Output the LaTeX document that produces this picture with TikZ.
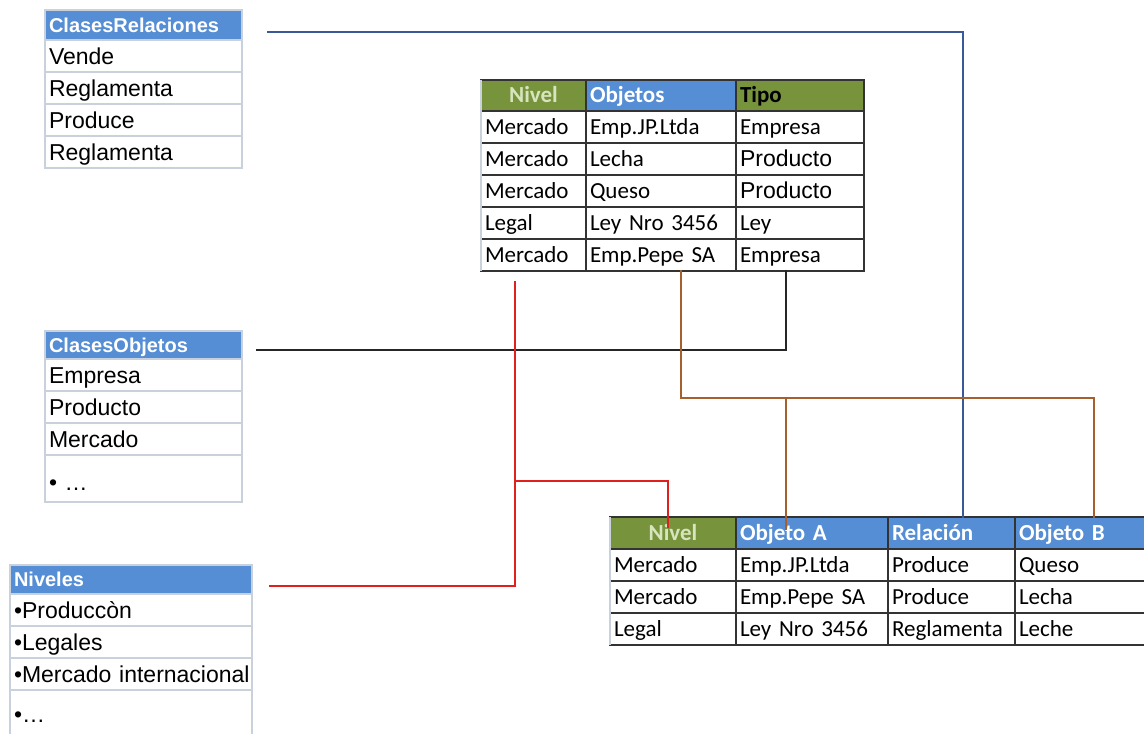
\documentclass[tikz,border=0pt]{standalone}
\usepackage{fontspec}
\setmainfont{Carlito}
\newfontfamily\arialf{Liberation Sans}
\usetikzlibrary{positioning}

\definecolor{hdrgreen}{HTML}{77933C}
\definecolor{hdrblue}{HTML}{558ED5}
\definecolor{greentext}{HTML}{D7E4BD}
\definecolor{lgrid}{HTML}{C9D1DD}
\definecolor{dgrid}{HTML}{333333}
\definecolor{linkblue}{HTML}{3B5998}
\definecolor{linkred}{HTML}{E0201C}
\definecolor{linkbrown}{HTML}{A5602E}

\begin{document}
\begin{tikzpicture}[x=0.5pt, y=-0.5pt,
  every node/.style={inner xsep=2pt, inner ysep=0pt, outer sep=0pt, anchor=north west, align=left},
  lhead/.style={fill=hdrblue, draw=lgrid, line width=0.6pt, text=white,
    font=\arialf\bfseries\fontsize{10}{12}\selectfont, text height=7.2pt, text depth=0pt, text width=#1},
  lcell/.style={fill=white, draw=lgrid, line width=0.6pt, minimum height=16pt,
    font=\arialf\fontsize{11.5}{13}\selectfont, text height=8.2pt, text depth=0pt, text width=#1},
  thead/.style={fill=hdrblue, draw=dgrid, line width=1pt, text=white, minimum height=#1,
    font=\bfseries\fontsize{11.5}{13}\selectfont, text height=7.4pt, text depth=0pt},
  theadg/.style={thead=#1, fill=hdrgreen, text=greentext, align=center},
  tcell/.style={fill=white, draw=dgrid, line width=1pt, minimum height=16pt,
    font=\fontsize{11.5}{13}\selectfont, text height=7.4pt, text depth=0pt},
  link/.style={line width=1pt, line cap=rect}]

\useasboundingbox (0,0) rectangle (1144,733);

% ClasesRelaciones
\node[lhead=94.5pt, minimum height=15pt] (crel0) at (45,10) {ClasesRelaciones};
\foreach \t [count=\i] in {Vende,Reglamenta,Produce,Reglamenta}
  \node[lcell=94.5pt] (crel\i) at (45,{40+32*(\i-1)}) {\t};

% ClasesObjetos
\node[lhead=94.5pt, minimum height=14pt] (cobj0) at (45,331) {ClasesObjetos};
\foreach \t [count=\i] in {Empresa,Producto,Mercado}
  \node[lcell=94.5pt] (cobj\i) at (45,{359+32*(\i-1)}) {\t};
\node[lcell=94.5pt, text height=17.5pt, text depth=6pt] (cobj4) at (45,455) {• …};

% Niveles
\node[lhead=117pt, minimum height=14.5pt] (niv0) at (10,565) {Niveles};
\foreach \t [count=\i] in {•Produccòn,•Legales,\mbox{•Mercado internacional}}
  \node[lcell=117pt] (niv\i) at (10,{594+32*(\i-1)}) {\t};
\node[lcell=117pt, text height=16pt, text depth=9pt] (niv4) at (10,690) {•…};

% tabla de objetos
\node[theadg=15.5pt, text width=48.5pt] (m0a) at (481,80) {Nivel};
\node[thead=15.5pt, text width=71pt] (m0b) at (586,80) {Objetos};
\node[theadg=15.5pt, text=black, align=left, text width=60pt] (m0c) at (736,80) {Tipo};
\foreach \a/\b/\c [count=\i] in {Mercado/Emp.JP.Ltda/Empresa,
    Mercado/Lecha/{\arialf Producto},
    Mercado/Queso/{\arialf Producto},
    Legal/Ley Nro 3456/Ley,
    Mercado/Emp.Pepe SA/Empresa}{
  \node[tcell, text width=48.5pt] (m\i a) at (481,{111+32*(\i-1)}) {\a};
  \node[tcell, text width=71pt] (m\i b) at (586,{111+32*(\i-1)}) {\b};
  \node[tcell, text width=60pt] (m\i c) at (736,{111+32*(\i-1)}) {\c};
}
\draw[lgrid, line width=1pt] (m0a.north west) -- (m5a.south west);

% tabla de relaciones
\node[theadg=16pt, text width=59pt] (b0a) at (610,517) {Nivel};
\node[thead=16pt, text width=72pt] (b0b) at (736,517) {Objeto A};
\node[thead=16pt, text width=59.5pt] (b0c) at (888,517) {Relación};
\node[thead=16pt, text width=63.5pt] (b0d) at (1015,517) {Objeto B};
\foreach \a/\b/\c/\d [count=\i] in {Mercado/Emp.JP.Ltda/Produce/Queso,
    Mercado/Emp.Pepe SA/Produce/Lecha,
    Legal/Ley Nro 3456/Reglamenta/Leche}{
  \node[tcell, text width=59pt] (b\i a) at (610,{549+32*(\i-1)}) {\a};
  \node[tcell, text width=72pt] (b\i b) at (736,{549+32*(\i-1)}) {\b};
  \node[tcell, text width=59.5pt] (b\i c) at (888,{549+32*(\i-1)}) {\c};
  \node[tcell, text width=63.5pt] (b\i d) at (1015,{549+32*(\i-1)}) {\d};
}
\draw[lgrid, line width=1pt] (b0a.north west) -- (b3a.south west);

% enlaces
\coordinate (bluestart) at (268,32);
\coordinate (blackstart) at (257,350);
\coordinate (redstart) at (270,586);
\coordinate (redjoint) at (515,481);
\coordinate (brownjoint) at (681,398);

\draw[link, linkblue, line width=0.8pt] (bluestart) -| ([xshift=5.75pt]b0c.north);
\draw[link, black!85] (blackstart) -| ([xshift=-7pt]m5c.south);
\draw[link, linkred] (redstart) -| ([xshift=-9.25pt, yshift=-5.5pt]m5a.south);
\draw[link, linkred] (redjoint) -| ([xshift=-2.5pt, yshift=-5pt]b0a.north);
\draw[link, linkbrown] ([xshift=10pt]m5b.south) -- (brownjoint) -| ([xshift=5.75pt]b0d.north);
\draw[link, linkbrown] ([xshift=-13pt]b0b.north |- brownjoint) -- ([xshift=-13pt, yshift=-6pt]b0b.north);
\end{tikzpicture}
\end{document}
